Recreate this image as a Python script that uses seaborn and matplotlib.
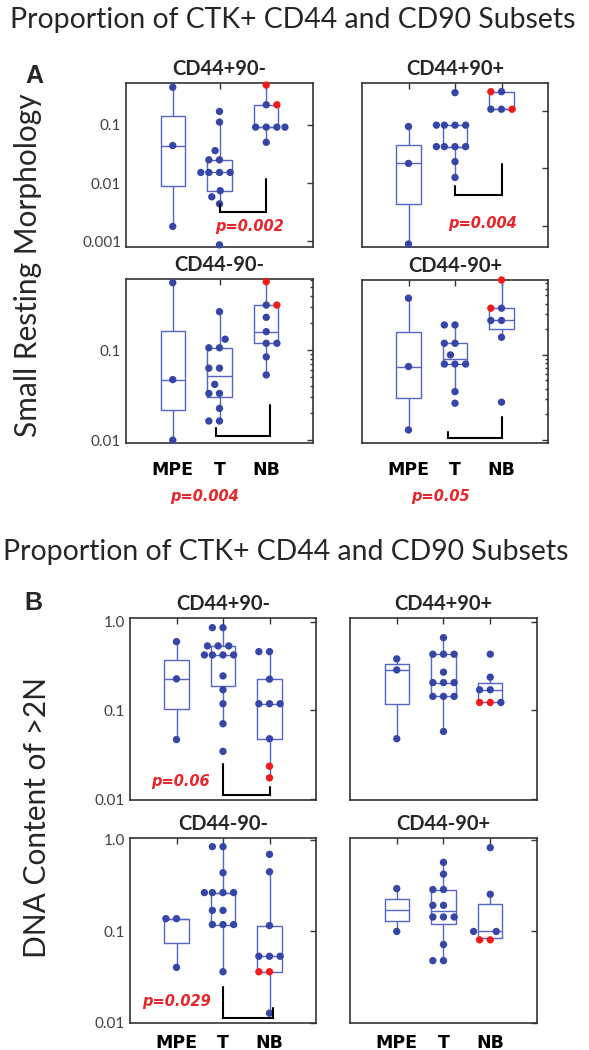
import numpy as np
import pandas as pd
import matplotlib
matplotlib.use("Agg")
import matplotlib.pyplot as plt
from matplotlib.ticker import NullLocator, NullFormatter, LogLocator
import seaborn as sns

groups = ["MPE", "T", "NB"]

# Panel A - small resting morphology (red = highlighted NB samples)
a1_mpe = [0.44, 0.044, 0.0018]
a1_t = [0.169, 0.111, 0.036, 0.025, 0.025, 0.0152, 0.0152, 0.0152, 0.0152,
        0.0074, 0.0058, 0.0044, 0.00087]
a1_nb = [0.22, 0.091, 0.091, 0.091, 0.091, 0.05]
a1_nb_red = [0.48, 0.22]

a2_mpe = [0.053, 0.0121, 0.00048]
a2_t = [0.206, 0.056, 0.056, 0.056, 0.056, 0.0237, 0.0237, 0.0237, 0.0237,
        0.013, 0.0069]
a2_nb = [0.214, 0.106, 0.106]
a2_nb_red = [0.214, 0.106]

a3_mpe = [0.56, 0.047, 0.01]
a3_t = [0.267, 0.132, 0.106, 0.106, 0.063, 0.063, 0.0416, 0.033, 0.033,
        0.0225, 0.0163, 0.0163]
a3_nb = [0.316, 0.231, 0.16, 0.119, 0.119, 0.084, 0.053]
a3_nb_red = [0.574, 0.316]

a4_mpe = [0.464, 0.073, 0.0131]
a4_t = [0.225, 0.225, 0.137, 0.137, 0.1, 0.078, 0.078, 0.078, 0.037, 0.027]
a4_nb = [0.354, 0.254, 0.254, 0.161, 0.0278]
a4_nb_red = [0.76, 0.354]

# Panel B - DNA content >2N
b1_mpe = [0.596, 0.227, 0.047]
b1_t = [0.856, 0.856, 0.533, 0.533, 0.533, 0.422, 0.422, 0.422, 0.422,
        0.245, 0.171, 0.119, 0.0708, 0.0346]
b1_nb = [0.46, 0.46, 0.225, 0.119, 0.119, 0.119, 0.048]
b1_nb_red = [0.0235, 0.0174]

b2_mpe = [0.381, 0.286, 0.048]
b2_t = [0.66, 0.43, 0.43, 0.43, 0.27, 0.206, 0.206, 0.206, 0.144, 0.144,
        0.144, 0.058]
b2_nb = [0.43, 0.237, 0.171, 0.171, 0.123]
b2_nb_red = [0.123, 0.123]

b3_mpe = [0.138, 0.138, 0.0405]
b3_t = [0.845, 0.845, 0.438, 0.266, 0.266, 0.266, 0.266, 0.17, 0.17, 0.119,
        0.119, 0.119, 0.0363]
b3_nb = [0.696, 0.449, 0.116, 0.0536, 0.0536, 0.0536, 0.0128]
b3_nb_red = [0.0363, 0.0363]

b4_mpe = [0.294, 0.1]
b4_t = [0.569, 0.423, 0.287, 0.287, 0.193, 0.193, 0.144, 0.144, 0.144,
        0.072, 0.048, 0.048]
b4_nb = [0.824, 0.255, 0.1, 0.1]
b4_nb_red = [0.081, 0.081]

main_title = "Proportion of CTK+ CD44 and CD90 Subsets"

dot_blue = "#3546a6"
box_blue = "#5565c8"
dot_red = "#f01c1c"
p_red = "#e8262a"

sns.set_style("white")
plt.rcParams["font.family"] = ["Lato", "DejaVu Sans"]

W, H = 589, 1050
fig = plt.figure(figsize=(W / 100, H / 100), dpi=100)


def px_axes(x0, y0, x1, y1):
    return fig.add_axes([x0 / W, 1 - y1 / H, (x1 - x0) / W, (y1 - y0) / H])


def draw_panel(ax, mpe, t, nb, nb_red, title, ylim, yticks, ylabels,
               minor=False, xlabels=False, xpad=8):
    df = pd.DataFrame({
        "group": ["MPE"] * len(mpe) + ["T"] * len(t) + ["NB"] * (len(nb) + len(nb_red)),
        "value": mpe + t + nb + nb_red,
        "mark": ["n"] * (len(mpe) + len(t) + len(nb)) + ["r"] * len(nb_red),
    })
    sns.boxplot(data=df, x="group", y="value", order=groups, width=0.52,
                whis=1.5, showfliers=False, showcaps=False, fill=False,
                color=box_blue, linewidth=1.0, log_scale=True, ax=ax)
    sns.swarmplot(data=df, x="group", y="value", hue="mark", hue_order=["n", "r"],
                  palette={"n": dot_blue, "r": dot_red}, order=groups,
                  size=5.3, linewidth=2.0, edgecolor="none", log_scale=True,
                  legend=False, ax=ax, zorder=3, clip_on=False)
    ax.set_xlim(-1, 3)
    ax.set_ylim(*ylim)
    ax.set_xlabel("")
    ax.set_ylabel("")
    ax.set_xticks([0, 1, 2])
    if xlabels:
        ax.set_xticklabels(groups, fontsize=12.5, fontweight="bold",
                           family="DejaVu Sans", color="black")
    else:
        ax.set_xticklabels([])
    ax.set_yticks(yticks)
    ax.set_yticklabels(ylabels, fontsize=11, color="#404040")
    if minor:
        ax.yaxis.set_minor_locator(LogLocator(base=10, subs=np.arange(2, 10)))
    else:
        ax.yaxis.set_minor_locator(NullLocator())
    ax.yaxis.set_minor_formatter(NullFormatter())
    ax.tick_params(axis="both", which="both", direction="in", top=True,
                   right=True, color="#333333", width=1.0)
    ax.tick_params(axis="both", which="major", length=4)
    ax.tick_params(axis="y", which="minor", length=2.2)
    ax.tick_params(axis="x", pad=xpad)
    for s in ax.spines.values():
        s.set_linewidth(1.2)
        s.set_color("#333333")
    ax.set_title(title, fontsize=14.5, fontweight="bold", pad=5.5)


def bracket(ax, xl, xr, yh, yl, yr):
    tr = ax.get_xaxis_transform()
    ax.plot([xl, xl, xr, xr], [yl, yh, yh, yr], color="black", lw=1.5,
            transform=tr, zorder=4, solid_joinstyle="miter")


def ptext(ax, x, y, s):
    ax.text(x, y, s, transform=ax.transAxes, ha="center", va="center",
            color=p_red, fontsize=10.5, fontweight="bold", style="italic",
            family="DejaVu Sans")


# ---- Panel A ----
ax = px_axes(126, 83, 313, 247)
draw_panel(ax, a1_mpe, a1_t, a1_nb, a1_nb_red, "CD44+90-", (0.0008, 0.52),
           [0.001, 0.01, 0.1], ["0.001", "0.01", "0.1"])
bracket(ax, 1, 2, 0.215, 0.262, 0.413)
ptext(ax, 0.663, 0.124, "p=0.002")

ax = px_axes(362, 83, 548, 247)
draw_panel(ax, a2_mpe, a2_t, a2_nb, a2_nb_red, "CD44+90+", (0.000426, 0.303),
           [0.001, 0.01, 0.1], [])
bracket(ax, 1, 2, 0.317, 0.372, 0.506)
ptext(ax, 0.649, 0.145, "p=0.004")

ax = px_axes(126, 279, 313, 443)
draw_panel(ax, a3_mpe, a3_t, a3_nb, a3_nb_red, "CD44-90-", (0.0093, 0.615),
           [0.01, 0.1], ["0.01", "0.1"], minor=True, xlabels=True, xpad=13)
bracket(ax, 0.93, 2.09, 0.043, 0.09, 0.232)

ax = px_axes(362, 280, 548, 443)
draw_panel(ax, a4_mpe, a4_t, a4_nb, a4_nb_red, "CD44-90+", (0.0092, 0.76),
           [0.01, 0.1], [], minor=True, xlabels=True, xpad=13)
bracket(ax, 0.843, 2, 0.029, 0.069, 0.16)

fig.text(205 / W, 1 - 496 / H, "p=0.004", ha="center", va="center", color=p_red,
         fontsize=10.5, fontweight="bold", style="italic", family="DejaVu Sans")
fig.text(440 / W, 1 - 496 / H, "p=0.05", ha="center", va="center", color=p_red,
         fontsize=10.5, fontweight="bold", style="italic", family="DejaVu Sans")

# ---- Panel B ----
ax = px_axes(130, 618, 316, 800)
draw_panel(ax, b1_mpe, b1_t, b1_nb, b1_nb_red, "CD44+90-", (0.0098, 1.1),
           [0.01, 0.1, 1.0], ["0.01", "0.1", "1.0"])
bracket(ax, 1, 2.0, 0.027, 0.198, 0.073)
ptext(ax, 0.269, 0.1, "p=0.06")

ax = px_axes(350, 618, 537, 800)
draw_panel(ax, b2_mpe, b2_t, b2_nb, b2_nb_red, "CD44+90+", (0.0098, 1.1),
           [0.01, 0.1, 1.0], [])

ax = px_axes(130, 838, 316, 1023)
draw_panel(ax, b3_mpe, b3_t, b3_nb, b3_nb_red, "CD44-90-", (0.01, 1.05),
           [0.01, 0.1, 1.0], ["0.01", "0.1", "1.0"], xlabels=True, xpad=8)
bracket(ax, 1, 2.07, 0.027, 0.196, 0.08)
ptext(ax, 0.25, 0.115, "p=0.029")

ax = px_axes(350, 838, 537, 1023)
draw_panel(ax, b4_mpe, b4_t, b4_nb, b4_nb_red, "CD44-90+", (0.01, 1.05),
           [0.01, 0.1, 1.0], [], xlabels=True, xpad=8)

# ---- figure-level text ----
fig.text(10 / W, 1 - 28 / H, main_title, fontsize=20.4, ha="left", va="baseline")
fig.text(3 / W, 1 - 560 / H, main_title, fontsize=20.4, ha="left", va="baseline")
fig.text(34 / W, 1 - 76 / H, "A", fontsize=18, fontweight="bold",
         family="Liberation Sans", ha="center", va="center")
fig.text(33 / W, 1 - 603 / H, "B", fontsize=18, fontweight="bold",
         family="Liberation Sans", ha="center", va="center")
fig.text(28 / W, 1 - 265 / H, "Small Resting Morphology", rotation=90,
         fontsize=21.5, ha="center", va="center")
fig.text(37 / W, 1 - 818 / H, "DNA Content of >2N", rotation=90,
         fontsize=21.5, ha="center", va="center")

fig.savefig("out.png", dpi=100)
